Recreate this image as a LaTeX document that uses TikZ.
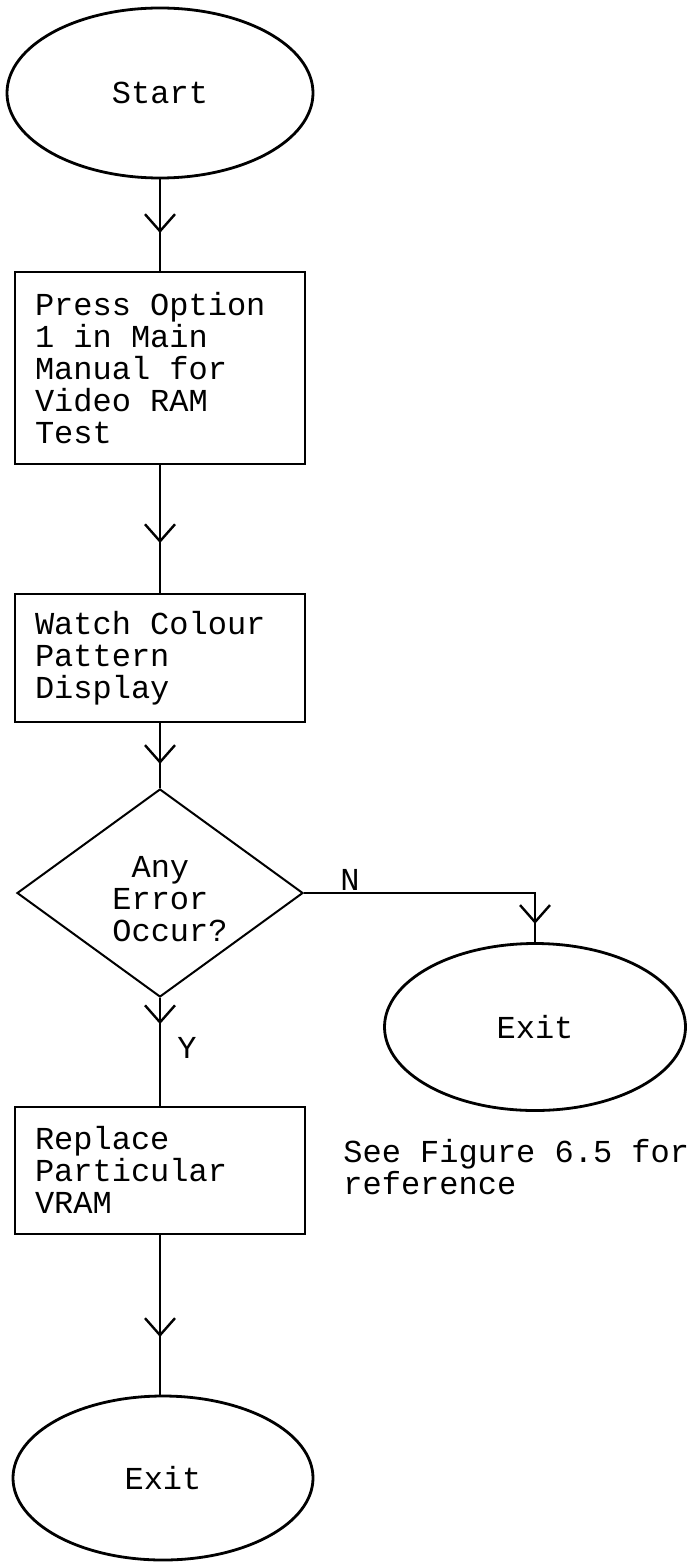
\documentclass[tikz,border=0pt]{standalone}
\usepackage{fontspec}
\setmainfont{Liberation Mono}
\setmonofont{Liberation Mono}
\usetikzlibrary{shapes.geometric,arrows.meta,decorations.markings}
\tikzset{
  fc/.style={font=\fontsize{16pt}{16pt}\selectfont},
  term/.style={fc, ellipse, draw, line width=1.4pt, inner sep=0pt},
  proc/.style={fc, rectangle, draw, line width=1pt, minimum width=145pt,
    text width=125pt, align=left, inner xsep=10pt, inner ysep=0pt,
    execute at begin node={\spaceskip=0pt\xspaceskip=0pt\relax}},
  decbox/.style={diamond, draw, line width=1pt, minimum width=143pt,
    minimum height=104pt, inner sep=0pt, aspect=1.4},
  lbl/.style={fc, inner sep=0pt},
  flow/.style={draw, line width=1pt},
  arr/.style={postaction={decorate}, decoration={markings,
    mark=at position #1 with {\arrow[line width=1.2pt]{Straight Barb[length=8.5pt,width=15pt]}}}},
}
\begin{document}
\begin{tikzpicture}[x=0.5pt,y=-0.5pt]
\useasboundingbox (0,0) rectangle (691,1562);
% nodes
\node[term, minimum width=153pt, minimum height=85pt] (start) at (160,93) {Start};
\node[proc, minimum height=96pt] (b1) at (160,368) {Press Option\\1 in Main\\Manual for\\Video RAM\\Test};
\node[proc, minimum height=64pt] (b2) at (160,658) {Watch Colour\\Pattern\\Display};
\node[decbox] (dec) at (160,893) {};
\node[lbl, align=left] (dectxt) at (170,899) {\phantom{A}Any\\Error\\Occur?};
\node[term, minimum width=150.5pt, minimum height=83.5pt] (exit1) at (535,1027) {Exit};
\node[proc, minimum height=63.5pt] (b3) at (160,1170) {Replace\\Particular\\VRAM};
\node[term, minimum width=150pt, minimum height=82pt] (exit2) at (163,1478) {Exit};
\node[lbl, anchor=base] (nlab) at (350,890) {N};
\node[lbl, anchor=base] (ylab) at (187,1058) {Y};
\node[lbl, anchor=north west, align=left] (note) at (343,1139) {See Figure 6.5 for\\reference};
% connectors
\draw[flow, arr=0.585] (start.south) -- (b1.north);
\draw[flow, arr=0.61] (b1.south) -- (b2.north);
\draw[flow, arr=0.63] (b2.south) -- (dec.north);
\draw[flow, arr=0.935] (dec.east) -| (exit1.north);
\draw[flow, arr=0.243] (dec.south) -- (b3.north);
\draw[flow, arr=0.64] (b3.south) -- (b3.south |- exit2.north);
\end{tikzpicture}
\end{document}
